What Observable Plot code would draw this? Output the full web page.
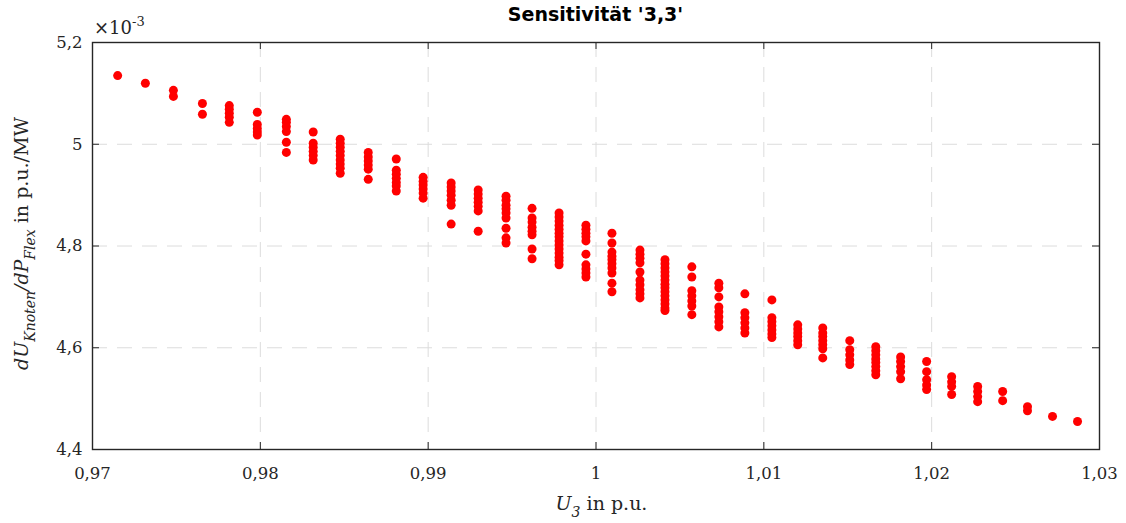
<!DOCTYPE html>
<html><head><meta charset="utf-8">
<script src="https://cdn.jsdelivr.net/npm/d3@7"></script>
<script src="https://cdn.jsdelivr.net/npm/@observablehq/plot@0.6"></script>
<style>body{margin:0;background:#fff}</style>
</head><body><div id="chart"></div>
<script>
// Node voltage U_3 (p.u.) of each column of points
const voltages = [0.9715, 0.97315, 0.97482, 0.97655, 0.97815, 0.97982, 0.98155, 0.98315, 0.98476, 0.98643,
  0.9881, 0.9897, 0.99137, 0.99298, 0.99464, 0.99619, 0.9978, 0.9994, 1.00095, 1.00262,
  1.00411, 1.00571, 1.00732, 1.00887, 1.01048, 1.01202, 1.01351, 1.01512, 1.01667, 1.01815,
  1.0197, 1.02119, 1.02274, 1.02423, 1.02571, 1.0272, 1.02869];
// Sensitivity dU/dP (x 1e-3 p.u./MW) for each column
const sensitivities = [
  [5.135],
  [5.120],
  [5.106, 5.094],
  [5.080, 5.059],
  [5.076, 5.069, 5.061, 5.053, 5.043],
  [5.063, 5.039, 5.031, 5.024, 5.018],
  [5.049, 5.043, 5.035, 5.025, 5.004, 4.984],
  [5.024, 5.002, 4.994, 4.986, 4.978, 4.969],
  [5.010, 5.002, 4.994, 4.986, 4.978, 4.969, 4.961, 4.953, 4.943],
  [4.984, 4.975, 4.967, 4.959, 4.951, 4.931],
  [4.971, 4.949, 4.941, 4.933, 4.925, 4.918, 4.908],
  [4.935, 4.927, 4.920, 4.912, 4.904, 4.894],
  [4.924, 4.916, 4.908, 4.900, 4.890, 4.880, 4.843],
  [4.910, 4.902, 4.894, 4.886, 4.878, 4.869, 4.829],
  [4.898, 4.890, 4.880, 4.873, 4.865, 4.855, 4.835, 4.816, 4.806],
  [4.874, 4.855, 4.847, 4.837, 4.829, 4.822, 4.794, 4.775],
  [4.865, 4.857, 4.849, 4.841, 4.833, 4.825, 4.818, 4.810, 4.802, 4.794, 4.786, 4.778, 4.771, 4.763],
  [4.841, 4.833, 4.825, 4.818, 4.810, 4.784, 4.763, 4.755, 4.747, 4.739],
  [4.825, 4.806, 4.788, 4.780, 4.773, 4.765, 4.757, 4.747, 4.727, 4.710],
  [4.792, 4.784, 4.776, 4.767, 4.749, 4.733, 4.724, 4.714, 4.706, 4.698],
  [4.773, 4.765, 4.757, 4.749, 4.741, 4.733, 4.725, 4.718, 4.710, 4.702, 4.694, 4.686, 4.678, 4.673],
  [4.759, 4.739, 4.712, 4.702, 4.692, 4.682, 4.665],
  [4.727, 4.718, 4.700, 4.680, 4.671, 4.661, 4.651, 4.641],
  [4.706, 4.669, 4.659, 4.649, 4.639, 4.629],
  [4.694, 4.659, 4.651, 4.643, 4.635, 4.627, 4.620],
  [4.645, 4.637, 4.629, 4.622, 4.614, 4.606],
  [4.639, 4.629, 4.622, 4.614, 4.606, 4.598, 4.580],
  [4.614, 4.596, 4.586, 4.576, 4.567],
  [4.602, 4.594, 4.586, 4.578, 4.571, 4.563, 4.555, 4.547],
  [4.582, 4.573, 4.563, 4.553, 4.539],
  [4.573, 4.553, 4.537, 4.527, 4.518],
  [4.543, 4.533, 4.524, 4.508],
  [4.524, 4.514, 4.504, 4.494],
  [4.514, 4.496],
  [4.484, 4.476],
  [4.465],
  [4.455]
];
const xTicks = [0.97, 0.98, 0.99, 1, 1.01, 1.02, 1.03];
const yTicks = [4.4, 4.6, 4.8, 5, 5.2];
const titleText = "Sensitivität '3,3'";

const data = voltages.flatMap((u, i) => sensitivities[i].map(s => ({u, s})));
const W = 1126, H = 523, mL = 92, mR = 27, mT = 42, mB = 74;
const pw = W - mL - mR, ph = H - mT - mB;
const fmt = d => String(d).replace(".", ",");
const axisColor = "#262626";
const gridStyle = {stroke: "#dcdcdc", strokeOpacity: 1, strokeWidth: 1, strokeDasharray: "15,10"};

const chart = Plot.plot({
  width: W, height: H,
  marginLeft: mL, marginRight: mR, marginTop: mT, marginBottom: mB,
  style: {fontFamily: "DejaVu Serif", fontSize: "16.5px", background: "#fff", color: axisColor},
  x: {domain: [0.97, 1.03]},
  y: {domain: [4.4, 5.2]},
  marks: [
    Plot.gridX(xTicks, gridStyle),
    Plot.gridY(yTicks, gridStyle),
    Plot.dot(data, {x: "u", y: "s", r: 4.5, fill: "#ff0000", stroke: "none"}),
    Plot.tickX(xTicks, {x: d => d, insetTop: ph - 7, stroke: axisColor, strokeWidth: 1}),
    Plot.tickX(xTicks, {x: d => d, insetBottom: ph - 7, stroke: axisColor, strokeWidth: 1}),
    Plot.tickY(yTicks, {y: d => d, insetRight: pw - 7, stroke: axisColor, strokeWidth: 1}),
    Plot.tickY(yTicks, {y: d => d, insetLeft: pw - 7, stroke: axisColor, strokeWidth: 1}),
    Plot.axisX(xTicks, {tickSize: 0, tickPadding: 18, tickFormat: fmt, label: null, fill: axisColor}),
    Plot.axisY(yTicks, {tickSize: 0, tickPadding: 10, tickFormat: fmt, label: null, fill: axisColor}),
    Plot.frame({stroke: axisColor, strokeWidth: 1.4})
  ]
});

const svg = d3.select(chart);
const cx = mL + pw / 2;
// Title
svg.append("text").attr("x", cx).attr("y", 21).attr("text-anchor", "middle")
  .attr("font-family", "DejaVu Sans").attr("font-weight", "bold").attr("font-size", 19)
  .attr("fill", "#000").text(titleText);
// Exponent
const ex = svg.append("text").attr("x", 94).attr("y", 34).attr("text-anchor", "start")
  .attr("font-family", "DejaVu Serif").attr("font-size", 18).attr("fill", axisColor);
ex.append("tspan").text("×10");
ex.append("tspan").attr("dy", -8).attr("font-size", 13).text("-3");
// X label
const xl = svg.append("text").attr("x", cx + 6).attr("y", 510).attr("text-anchor", "middle")
  .attr("font-family", "DejaVu Serif").attr("font-size", 19).attr("fill", axisColor);
xl.append("tspan").attr("font-style", "italic").text("U");
xl.append("tspan").attr("font-style", "italic").attr("font-size", 14).attr("dy", 7).text("3");
xl.append("tspan").attr("dy", -7).text(" in p.u.");
// Y label
const yl = svg.append("text").attr("transform", `translate(28,${mT + ph / 2 - 2}) rotate(-90)`)
  .attr("text-anchor", "middle").attr("font-family", "DejaVu Serif").attr("font-size", 19).attr("fill", axisColor);
yl.append("tspan").attr("font-style", "italic").text("dU");
yl.append("tspan").attr("font-style", "italic").attr("font-size", 14).attr("dy", 7).text("Knoten");
yl.append("tspan").attr("font-style", "italic").attr("dy", -7).text("/dP");
yl.append("tspan").attr("font-style", "italic").attr("font-size", 14).attr("dy", 7).text("Flex");
yl.append("tspan").attr("dy", -7).text(" in p.u./MW");

document.getElementById("chart").appendChild(chart);
</script>
</body></html>
